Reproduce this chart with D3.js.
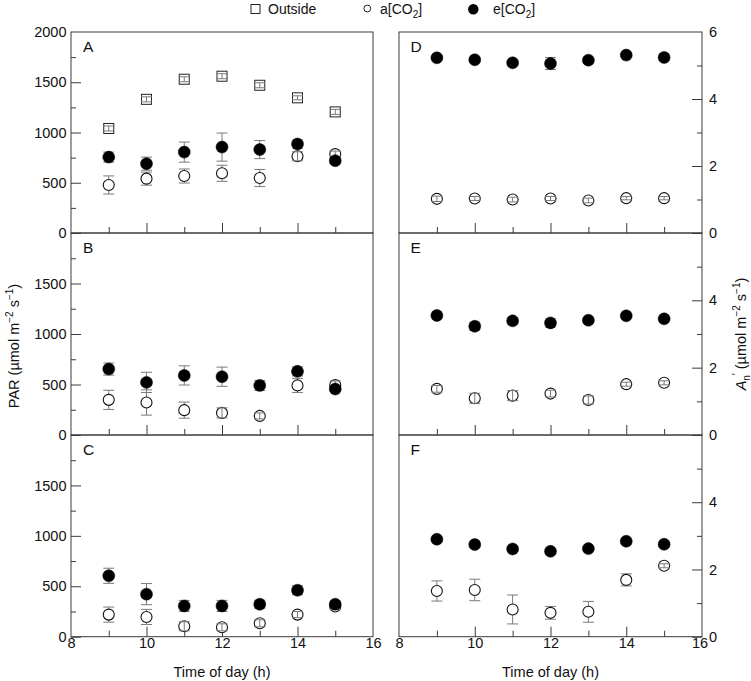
<!DOCTYPE html>
<html><head><meta charset="utf-8">
<script src="https://cdn.jsdelivr.net/npm/d3@7"></script>
<style>
html,body{margin:0;padding:0;background:#fff;}
svg{display:block;font-family:"Liberation Sans",Arial,Helvetica,sans-serif;}
</style></head>
<body>
<svg id="chart" width="751" height="681"></svg>
<script>
// ---------- DATA ----------
const hours = [9, 10, 11, 12, 13, 14, 15];
const xTickLabels = [8, 10, 12, 14, 16];

// PAR (µmol m-2 s-1)
const parA_outside     = [1040, 1330, 1530, 1560, 1470, 1345, 1205];
const parA_outside_err = [25, 25, 25, 25, 25, 20, 25];
const parA_a     = [478, 541, 567, 594, 547, 763, 785];
const parA_a_err = [90, 65, 70, 80, 85, 45, 30];
const parA_e     = [755, 690, 805, 855, 830, 885, 720];
const parA_e_err = [50, 65, 100, 140, 90, 40, 30];

const parB_a     = [348, 322, 246, 219, 189, 491, 494];
const parB_a_err = [95, 125, 80, 50, 30, 70, 40];
const parB_e     = [653, 521, 590, 577, 491, 630, 455];
const parB_e_err = [60, 100, 95, 95, 50, 45, 20];

const parC_a     = [219, 196, 103, 93, 133, 219, 299];
const parC_a_err = [75, 75, 45, 35, 35, 30, 30];
const parC_e     = [604, 422, 305, 305, 322, 461, 322];
const parC_e_err = [75, 105, 55, 55, 40, 45, 30];

// An' (µmol m-2 s-1)
const anD_a     = [1.02, 1.03, 1.00, 1.03, 0.97, 1.04, 1.04];
const anD_a_err = [0.08, 0.06, 0.07, 0.06, 0.07, 0.05, 0.05];
const anD_e     = [5.23, 5.17, 5.08, 5.06, 5.16, 5.31, 5.24];
const anD_e_err = [0.05, 0.05, 0.07, 0.18, 0.06, 0.05, 0.05];

const anE_a     = [1.37, 1.09, 1.17, 1.23, 1.04, 1.51, 1.55];
const anE_a_err = [0.10, 0.15, 0.15, 0.10, 0.12, 0.06, 0.06];
const anE_e     = [3.55, 3.23, 3.39, 3.33, 3.41, 3.54, 3.45];
const anE_e_err = [0.05, 0.12, 0.10, 0.12, 0.05, 0.05, 0.05];

const anF_a     = [1.36, 1.39, 0.81, 0.71, 0.74, 1.69, 2.11];
const anF_a_err = [0.30, 0.32, 0.43, 0.19, 0.31, 0.18, 0.06];
const anF_e     = [2.90, 2.74, 2.61, 2.54, 2.62, 2.84, 2.75];
const anF_e_err = [0.05, 0.05, 0.07, 0.05, 0.05, 0.05, 0.05];

const parMajorTicks = [0, 500, 1000, 1500, 2000];
const parMinorTicks = [250, 750, 1250, 1750];
const anMajorTicks = [0, 2, 4, 6];
const anMinorTicks = [1, 3, 5];
const legendLabels = ["Outside", "a[CO2]", "e[CO2]"];

// ---------- LAYOUT ----------
const svg = d3.select("#chart");
const FONT = 14.5;
const leftX = [71, 373], rightX = [399, 702];
const rows = [[32, 233], [233, 435], [435, 636.7]];
const R_OPEN = 5.5, R_FILL = 6, SQ = 10, CAP = 5.5;
const ERR_COLOR = "#7a7a7a", FRAME = "#3a3a3a";

const panels = [
  {label: "A", side: "left", row: 0, domain: [0, 2000], showTop: true,
   outside: parA_outside, outsideErr: parA_outside_err, a: parA_a, aErr: parA_a_err, e: parA_e, eErr: parA_e_err},
  {label: "B", side: "left", row: 1, domain: [0, 2000],
   a: parB_a, aErr: parB_a_err, e: parB_e, eErr: parB_e_err},
  {label: "C", side: "left", row: 2, domain: [0, 2000], bottomLabels: true,
   a: parC_a, aErr: parC_a_err, e: parC_e, eErr: parC_e_err},
  {label: "D", side: "right", row: 0, domain: [0, 6], showTop: true,
   a: anD_a, aErr: anD_a_err, e: anD_e, eErr: anD_e_err},
  {label: "E", side: "right", row: 1, domain: [0, 6],
   a: anE_a, aErr: anE_a_err, e: anE_e, eErr: anE_e_err},
  {label: "F", side: "right", row: 2, domain: [0, 6], bottomLabels: true,
   a: anF_a, aErr: anF_a_err, e: anF_e, eErr: anF_e_err}
];

function styleAxis(g) {
  g.select(".domain").remove();
  g.selectAll(".tick line").attr("stroke", FRAME).attr("stroke-width", 1);
  g.selectAll(".tick text").attr("fill", "#111").attr("font-size", FONT)
    .attr("font-family", '"Liberation Sans",Arial,sans-serif');
}

panels.forEach(p => {
  const xr = p.side === "left" ? leftX : rightX;
  const [top, bottom] = rows[p.row];
  const x = d3.scaleLinear().domain([8, 16]).range(xr);
  const y = d3.scaleLinear().domain(p.domain).range([bottom, top]);
  const g = svg.append("g");

  // frame
  g.append("rect").attr("x", xr[0]).attr("y", top)
    .attr("width", xr[1] - xr[0]).attr("height", bottom - top)
    .attr("fill", "none").attr("stroke", FRAME).attr("stroke-width", 1);

  // y axis
  const isLeft = p.side === "left";
  const major = isLeft ? parMajorTicks : anMajorTicks;
  const minor = isLeft ? parMinorTicks : anMinorTicks;
  const topVal = p.domain[1];
  const majorVals = major.filter(v => v !== topVal);
  const axisFn = isLeft ? d3.axisLeft : d3.axisRight;
  const yAxis = axisFn(y).tickValues(majorVals).tickSize(-10).tickSizeOuter(0)
    .tickPadding(isLeft ? 4.5 : 7).tickFormat(d3.format("d"));
  g.append("g").attr("transform", `translate(${isLeft ? xr[0] : xr[1]},0)`)
    .call(yAxis).call(styleAxis);
  g.append("g").attr("transform", `translate(${isLeft ? xr[0] : xr[1]},0)`)
    .call(axisFn(y).tickValues(minor).tickSize(-5).tickSizeOuter(0).tickFormat(""))
    .call(styleAxis);
  if (p.showTop) {
    g.append("text").attr("x", isLeft ? xr[0] - 4.5 : xr[1] + 7).attr("y", y(topVal))
      .attr("dy", "0.32em").attr("text-anchor", isLeft ? "end" : "start")
      .attr("font-size", FONT).attr("fill", "#111").text(d3.format("d")(topVal));
  }

  // x ticks (inward)
  const majorX = hours.filter(h => h % 2 === 0), minorX = hours.filter(h => h % 2 === 1);
  g.append("g").attr("transform", `translate(0,${bottom})`)
    .call(d3.axisBottom(x).tickValues(majorX).tickSize(-10).tickSizeOuter(0).tickFormat(""))
    .call(styleAxis);
  g.append("g").attr("transform", `translate(0,${bottom})`)
    .call(d3.axisBottom(x).tickValues(minorX).tickSize(-6).tickSizeOuter(0).tickFormat(""))
    .call(styleAxis);
  if (p.bottomLabels) {
    const xl = g.append("g").attr("transform", `translate(0,${bottom})`)
      .call(d3.axisBottom(x).tickValues(xTickLabels).tickSize(0).tickPadding(1).tickFormat(d3.format("d")))
      .call(styleAxis);
    if (!isLeft) {
      // nudge the last label slightly left, as in the reference, to clear the "0" of the right axis
      xl.selectAll(".tick text").filter(d => d === 16).attr("x", -2.5);
    }
    g.append("text").attr("x", (xr[0] + xr[1]) / 2).attr("y", 676.5)
      .attr("text-anchor", "middle").attr("font-size", FONT).attr("fill", "#111")
      .text("Time of day (h)");
  }

  // panel letter
  g.append("text").attr("x", isLeft ? 83 : 410.5).attr("y", top + 19.5)
    .attr("font-size", 15.5).attr("fill", "#111").text(p.label);

  // series
  const series = [];
  if (p.outside) series.push({vals: p.outside, errs: p.outsideErr, kind: "square"});
  series.push({vals: p.a, errs: p.aErr, kind: "open"});
  series.push({vals: p.e, errs: p.eErr, kind: "filled"});

  function drawErr(layer, s, filterFn) {
    const pts = hours.map((h, i) => ({h, v: s.vals[i], e: s.errs[i]})).filter(filterFn);
    const eg = layer.selectAll(null).data(pts).enter().append("g")
      .attr("stroke", ERR_COLOR).attr("stroke-width", 1).attr("fill", "none");
    eg.append("line").attr("x1", d => x(d.h)).attr("x2", d => x(d.h))
      .attr("y1", d => y(d.v + d.e)).attr("y2", d => y(d.v - d.e));
    eg.append("line").attr("x1", d => x(d.h) - CAP).attr("x2", d => x(d.h) + CAP)
      .attr("y1", d => y(d.v + d.e)).attr("y2", d => y(d.v + d.e));
    eg.append("line").attr("x1", d => x(d.h) - CAP).attr("x2", d => x(d.h) + CAP)
      .attr("y1", d => y(d.v - d.e)).attr("y2", d => y(d.v - d.e));
  }
  const small = s => d => Math.abs(y(0) - y(d.e)) < (s.kind === "square" ? SQ / 2 : R_OPEN);

  // error bars behind
  const back = g.append("g");
  series.forEach(s => {
    if (s.kind === "filled") drawErr(back, s, () => true);
    else drawErr(back, s, d => !small(s)(d));
  });

  // markers
  const marks = g.append("g");
  series.forEach(s => {
    const pts = hours.map((h, i) => ({h, v: s.vals[i], e: s.errs[i]}));
    if (s.kind === "square") {
      marks.selectAll(null).data(pts).enter().append("rect")
        .attr("x", d => x(d.h) - SQ / 2).attr("y", d => y(d.v) - SQ / 2)
        .attr("width", SQ).attr("height", SQ)
        .attr("fill", "#fff").attr("stroke", "#222").attr("stroke-width", 1);
    } else if (s.kind === "open") {
      marks.selectAll(null).data(pts).enter().append("circle")
        .attr("cx", d => x(d.h)).attr("cy", d => y(d.v)).attr("r", R_OPEN)
        .attr("fill", "#fff").attr("stroke", "#111").attr("stroke-width", 1.1);
    } else {
      marks.selectAll(null).data(pts).enter().append("circle")
        .attr("cx", d => x(d.h)).attr("cy", d => y(d.v)).attr("r", R_FILL)
        .attr("fill", "#000").attr("stroke", "#000").attr("stroke-width", 0.5);
    }
    // small error bars drawn on top of open symbols
    if (s.kind !== "filled") {
      drawErr(marks, s, d => small(s)(d));
    }
  });
});

// ---------- AXIS TITLES ----------
const lt = svg.append("text").attr("transform", "translate(19,346) rotate(-90)")
  .attr("text-anchor", "middle").attr("font-size", FONT).attr("fill", "#111");
lt.append("tspan").text("PAR (µmol m");
lt.append("tspan").attr("dy", -6).attr("font-size", 10).text("−2");
lt.append("tspan").attr("dy", 6).text(" s");
lt.append("tspan").attr("dy", -6).attr("font-size", 10).text("−1");
lt.append("tspan").attr("dy", 6).text(")");

const rt = svg.append("text").attr("transform", "translate(746,334) rotate(-90)")
  .attr("text-anchor", "middle").attr("font-size", FONT).attr("fill", "#111");
rt.append("tspan").attr("font-style", "italic").text("A");
rt.append("tspan").attr("dy", 3.5).attr("font-size", 10).text("n");
rt.append("tspan").attr("dy", -10).attr("font-size", 10).text("′");
rt.append("tspan").attr("dy", 6.5).text(" (µmol m");
rt.append("tspan").attr("dy", -6).attr("font-size", 10).text("−2");
rt.append("tspan").attr("dy", 6).text(" s");
rt.append("tspan").attr("dy", -6).attr("font-size", 10).text("−1");
rt.append("tspan").attr("dy", 6).text(")");

// ---------- LEGEND ----------
const lg = svg.append("g").attr("font-size", 14).attr("fill", "#111");
lg.append("rect").attr("x", 251).attr("y", 4.5).attr("width", 9).attr("height", 9)
  .attr("fill", "#fff").attr("stroke", "#222").attr("stroke-width", 1);
lg.append("text").attr("x", 268).attr("y", 14).text(legendLabels[0]);
lg.append("circle").attr("cx", 367.3).attr("cy", 8.5).attr("r", 3.4)
  .attr("fill", "#fff").attr("stroke", "#222").attr("stroke-width", 1);
function co2Label(xPos, label) {
  const t = lg.append("text").attr("x", xPos).attr("y", 14);
  const base = label.replace("2]", "");
  t.append("tspan").text(base);
  t.append("tspan").attr("dy", 3.5).attr("font-size", 10).text("2");
  t.append("tspan").attr("dy", -3.5).text("]");
}
co2Label(380, legendLabels[1]);
lg.append("circle").attr("cx", 473.3).attr("cy", 9.3).attr("r", 5.2).attr("fill", "#000");
co2Label(493, legendLabels[2]);
</script>
</body></html>
